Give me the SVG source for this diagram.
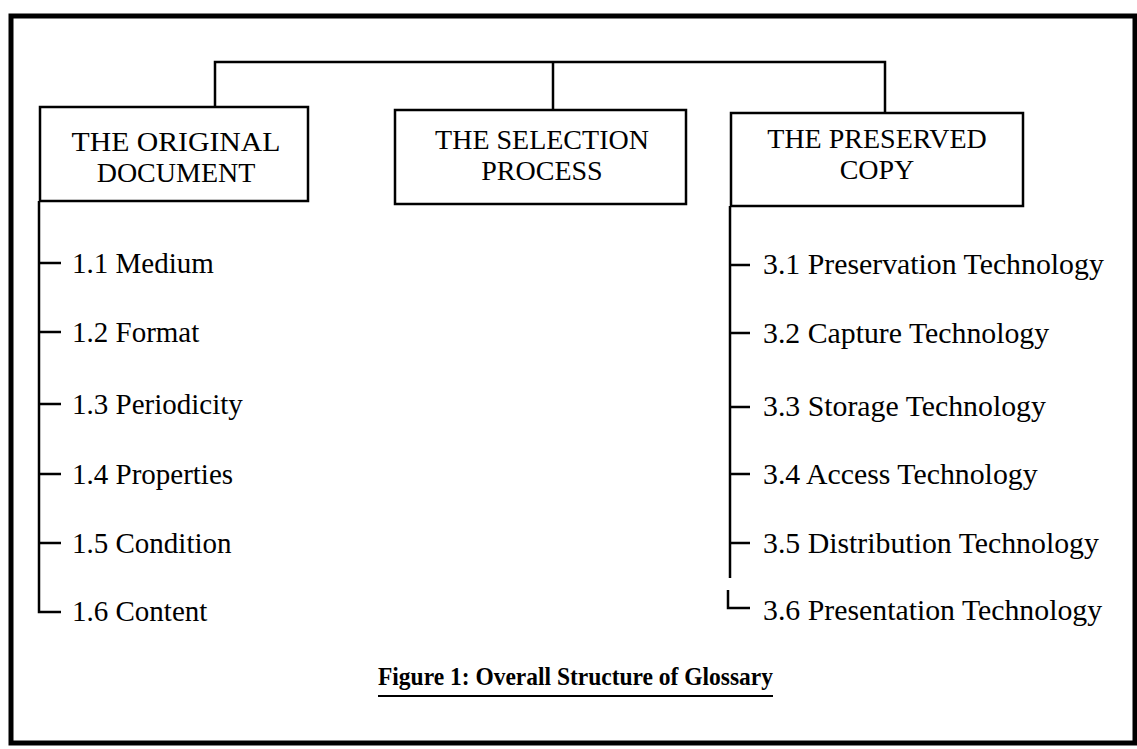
<svg xmlns="http://www.w3.org/2000/svg" width="1137" height="749" viewBox="0 0 1137 749">
<style>
.frame{fill:none;stroke:#000;stroke-width:5}
.box{fill:#fff;stroke:#000;stroke-width:2.5}
.ln{fill:none;stroke:#000;stroke-width:2.5}
.hd{font-family:"Liberation Serif","Times New Roman",serif;font-size:28px;fill:#000;text-anchor:middle}
.it{font-family:"Liberation Serif","Times New Roman",serif;font-size:29px;fill:#000}
.it2{font-family:"Liberation Serif","Times New Roman",serif;font-size:29.8px;fill:#000}
.cap{font-family:"Liberation Serif","Times New Roman",serif;font-size:26px;font-weight:bold;fill:#000}
</style>
<rect width="1137" height="749" fill="#fff"/>
<rect class="frame" x="11" y="16" width="1124" height="727"/>
<g id="connectors">
<path class="ln" d="M215 107 V62 H885 V113"/>
<path class="ln" d="M553 62 V110"/>
<path class="ln" d="M39 201 V612 H61"/>
<path class="ln" d="M39 263 H61 M39 332 H61 M39 404 H61 M39 474 H61 M39 543 H61"/>
<path class="ln" d="M730 206 V578"/>
<path class="ln" d="M730 265 H750 M730 333 H750 M730 407 H750 M730 474 H750 M730 543 H750"/>
<path class="ln" d="M728 590 V608 H750"/>
</g>
<g id="node-original">
<rect class="box" x="40" y="107" width="268" height="94"/>
<text class="hd" x="176" y="151" textLength="209" lengthAdjust="spacingAndGlyphs">THE ORIGINAL</text>
<text class="hd" x="176" y="182">DOCUMENT</text>
</g>
<g id="node-selection">
<rect class="box" x="395" y="110" width="291" height="94"/>
<text class="hd" x="542" y="149">THE SELECTION</text>
<text class="hd" x="542" y="180">PROCESS</text>
</g>
<g id="node-preserved">
<rect class="box" x="731" y="113" width="292" height="93"/>
<text class="hd" x="877" y="148">THE PRESERVED</text>
<text class="hd" x="877" y="179">COPY</text>
</g>
<g id="items-original">
<text class="it" x="72" y="273">1.1 Medium</text>
<text class="it" x="72" y="342">1.2 Format</text>
<text class="it" x="72" y="414">1.3 Periodicity</text>
<text class="it" x="72" y="484">1.4 Properties</text>
<text class="it" x="72" y="553">1.5 Condition</text>
<text class="it" x="72" y="621">1.6 Content</text>
</g>
<g id="items-preserved">
<text class="it2" x="763" y="274">3.1 Preservation Technology</text>
<text class="it2" x="763" y="343">3.2 Capture Technology</text>
<text class="it2" x="763" y="416">3.3 Storage Technology</text>
<text class="it2" x="763" y="484">3.4 Access Technology</text>
<text class="it2" x="763" y="553">3.5 Distribution Technology</text>
<text class="it2" x="763" y="620">3.6 Presentation Technology</text>
</g>
<g id="caption">
<text class="cap" x="378" y="685" textLength="395" lengthAdjust="spacingAndGlyphs">Figure 1: Overall Structure of Glossary</text>
<line x1="378" y1="696" x2="773" y2="696" stroke="#000" stroke-width="2"/>
</g>
</svg>
